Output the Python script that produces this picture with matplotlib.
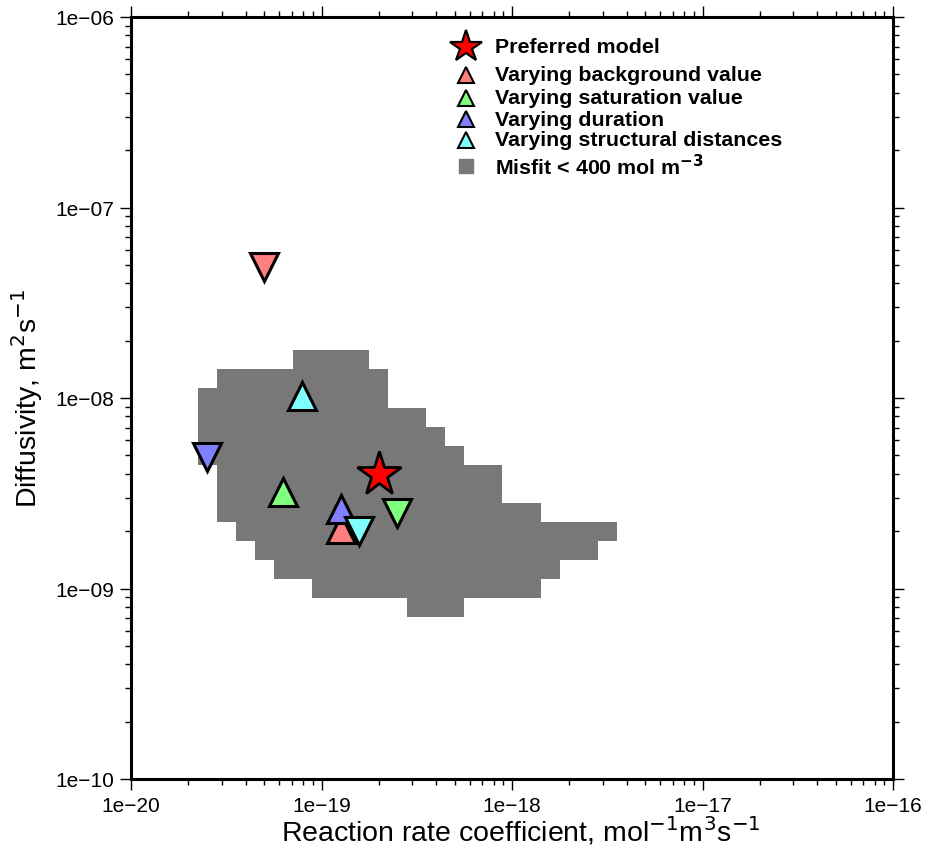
import numpy as np
import matplotlib
matplotlib.use("Agg")
import matplotlib.pyplot as plt
from matplotlib.ticker import FixedLocator, FuncFormatter, NullFormatter

plt.rcParams['font.family'] = ['Liberation Sans', 'DejaVu Sans']

# misfit < 400 mol m^-3 region, one row per log10(D) value
# each row filled from log10(k) first to last (0.1 step grid)
misfit_logD = [-9.1, -9.0, -8.9, -8.8, -8.7, -8.6, -8.5, -8.4, -8.3, -8.2, -8.1, -8.0, -7.9, -7.8]
misfit_first = [-18.5, -19.0, -19.2, -19.3, -19.4, -19.5, -19.5, -19.5, -19.6, -19.6, -19.6, -19.6, -19.5, -19.1]
misfit_last = [-18.3, -17.9, -17.8, -17.6, -17.5, -17.9, -18.1, -18.1, -18.3, -18.4, -18.5, -18.7, -18.7, -18.8]

preferred = (2.0e-19, 4.0e-9)

series_names = ['Varying background value', 'Varying saturation value',
                'Varying duration', 'Varying structural distances']
series_colors = ['#ff7f7f', '#7fff7f', '#7f7fff', '#7fffff']
# lower / higher parameter value models (up / down triangles)
up_k = [1.26e-19, 6.3e-20, 1.26e-19, 7.9e-20]
up_D = [2.05e-9, 3.2e-9, 2.6e-9, 1.03e-8]
down_k = [5.0e-20, 2.5e-19, 2.5e-20, 1.58e-19]
down_D = [4.9e-8, 2.5e-9, 4.9e-9, 2.0e-9]

x_decades = [1e-20, 1e-19, 1e-18, 1e-17, 1e-16]
y_decades = [1e-10, 1e-9, 1e-8, 1e-7, 1e-6]

# build the grid
step = 0.1
lk_centers = np.round(np.arange(-20.0, -16.0 + 1e-9, step), 1)
ld_centers = np.array(misfit_logD)
mask = np.full((len(ld_centers), len(lk_centers)), np.nan)
for r, (a, b) in enumerate(zip(misfit_first, misfit_last)):
    sel = (lk_centers >= a - 1e-6) & (lk_centers <= b + 1e-6)
    mask[r, sel] = 1.0
k_edges = 10 ** np.append(lk_centers - step / 2, lk_centers[-1] + step / 2)
d_edges = 10 ** np.append(ld_centers - step / 2, ld_centers[-1] + step / 2)

fig = plt.figure(figsize=(9.33, 8.53), dpi=100)
ax = fig.add_axes([131 / 933, 73 / 853, 762 / 933, 762 / 853])
ax.set_xscale('log')
ax.set_yscale('log')

gray = '#787878'
ax.pcolormesh(k_edges, d_edges, mask, cmap=matplotlib.colors.ListedColormap([gray]),
              shading='flat', zorder=1)

for c, k1, d1, k2, d2 in zip(series_colors, up_k, up_D, down_k, down_D):
    ax.plot(k1, d1, marker='^', ms=20, mfc=c, mec='black', mew=2.2, ls='none', zorder=3)
    ax.plot(k2, d2, marker='v', ms=20, mfc=c, mec='black', mew=2.2, ls='none', zorder=3)
ax.plot(*preferred, marker='*', ms=33, mfc='red', mec='black', mew=2.0, ls='none', zorder=4)

ax.set_xlim(x_decades[0], x_decades[-1])
ax.set_ylim(y_decades[0], y_decades[-1])

def fmt(v, pos):
    e = int(round(np.log10(v)))
    return '1e\u2212%02d' % (-e)

for axis, dec in ((ax.xaxis, x_decades), (ax.yaxis, y_decades)):
    minors = [d * m for d in dec[:-1] for m in range(2, 10)]
    axis.set_major_locator(FixedLocator(dec))
    axis.set_minor_locator(FixedLocator(minors))
    axis.set_major_formatter(FuncFormatter(fmt))
    axis.set_minor_formatter(NullFormatter())

ax.tick_params(which='both', direction='out', top=True, right=True, labelsize=15, width=1)
ax.tick_params(which='major', length=8, pad=4)
ax.tick_params(which='minor', length=4)
for s in ax.spines.values():
    s.set_linewidth(2.2)

ax.set_xlabel('Reaction rate coefficient, mol$^{-1}$m$^3$s$^{-1}$', fontsize=20.5)
ax.xaxis.set_label_coords(0.511, -0.046)
ax.set_ylabel('Diffusivity, m$^2$s$^{-1}$', fontsize=20.5)
ax.yaxis.set_label_coords(-0.113, 0.501)

# legend drawn by hand in axes fraction
lx, tx = 0.4396, 0.4777
ly = [0.961, 0.924, 0.894, 0.866, 0.839, 0.805]
ax.plot(lx, ly[0], marker='*', ms=24, mfc='red', mec='black', mew=1.6,
        transform=ax.transAxes, clip_on=False, zorder=5)
for i, c in enumerate(series_colors):
    ax.plot(lx, ly[i + 1], marker='^', ms=11, mfc=c, mec='black', mew=1.5,
            transform=ax.transAxes, clip_on=False, zorder=5)
ax.plot(lx, ly[5], marker='s', ms=10, mfc=gray, mec=gray, transform=ax.transAxes,
        clip_on=False, zorder=5)
labels = ['Preferred model'] + series_names + ['Misfit < 400 mol m$^{\\mathbf{-3}}$']
for y, t in zip(ly, labels):
    ax.text(tx, y, t, transform=ax.transAxes, fontsize=15.4, fontweight='bold',
            va='center', ha='left', zorder=5)

fig.savefig('out.png', dpi=100)
